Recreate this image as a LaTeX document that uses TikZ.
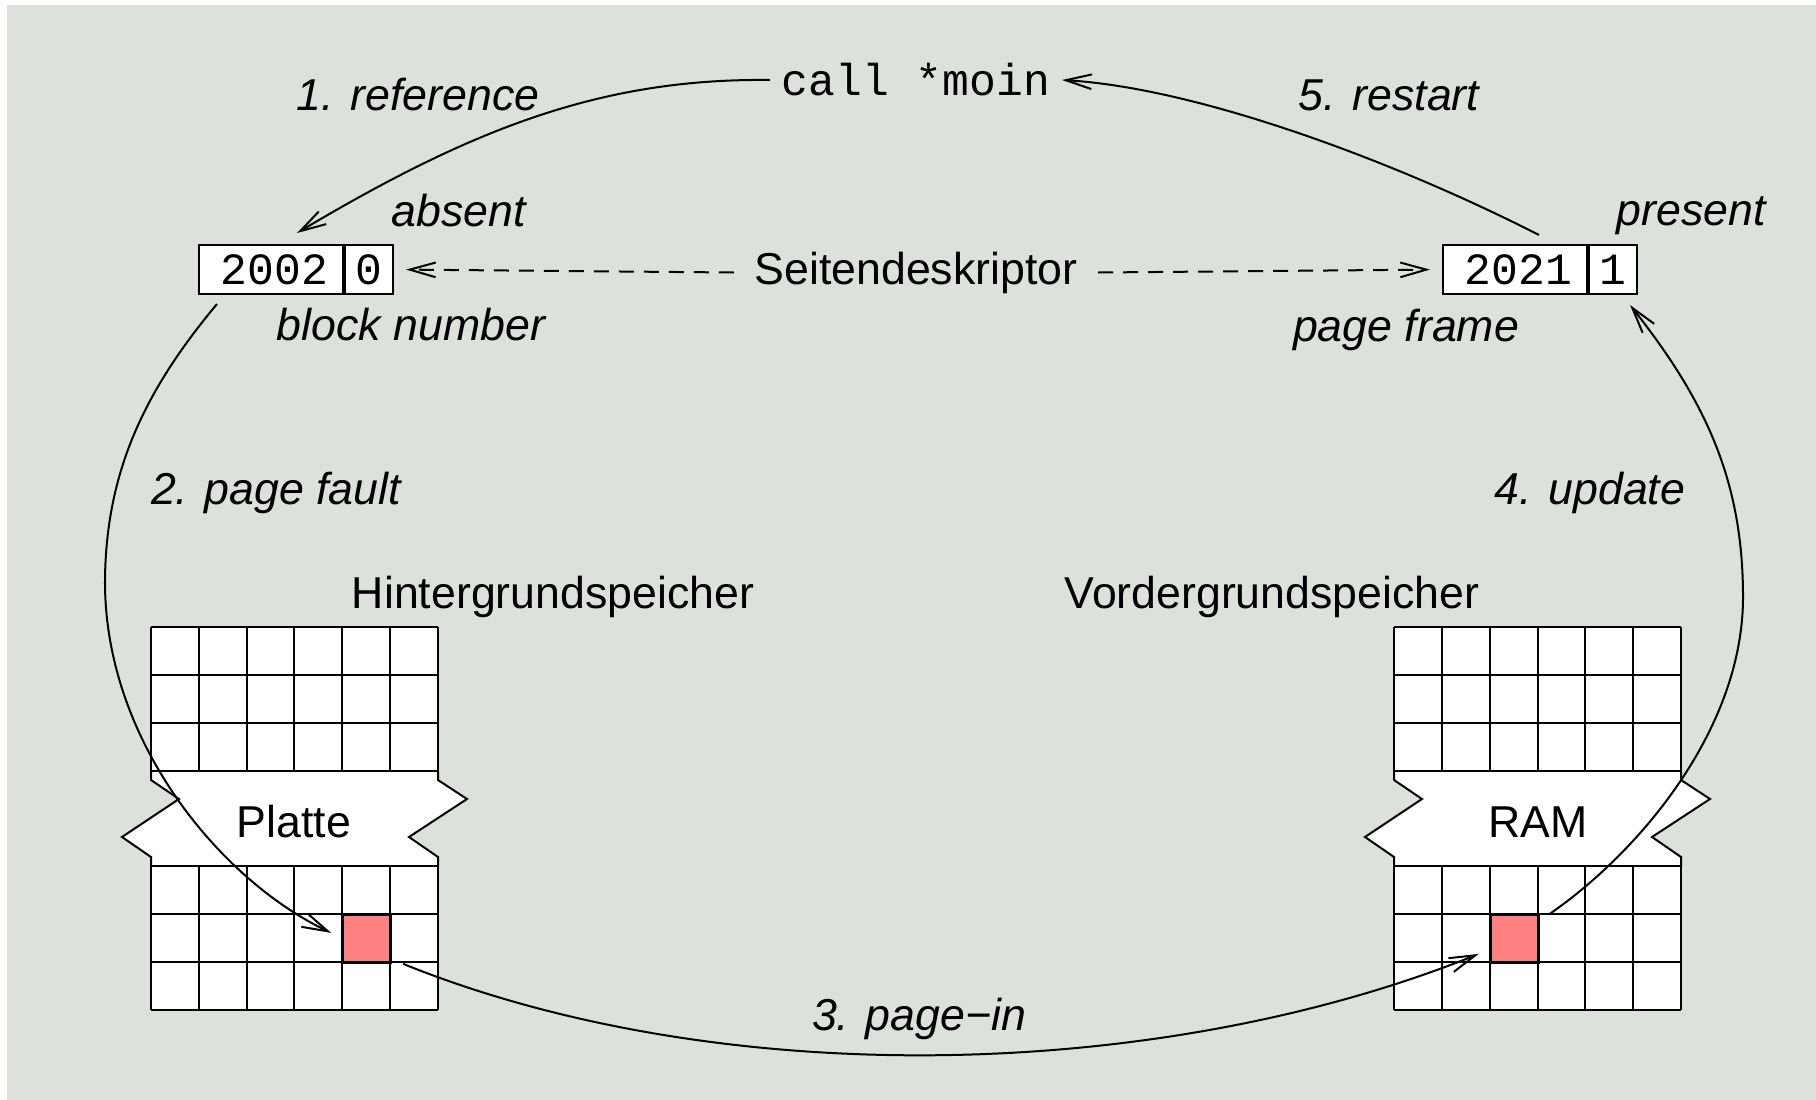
\documentclass[tikz,border=0pt]{standalone}
\usepackage{fontspec}
\setmainfont{Liberation Sans}
\setmonofont{Liberation Mono}
\usetikzlibrary{arrows.meta,calc}
\definecolor{bg}{RGB}{220,225,220}
\definecolor{redcell}{RGB}{255,128,128}
\tikzset{
  conn/.style={line width=0.6pt, -{Straight Barb[length=7.8pt,width=4.4pt]}},
  dconn/.style={conn, dash pattern=on 4.5pt off 3pt},
  lbl/.style={font=\fontsize{13.4}{16}\selectfont\itshape, inner sep=0pt},
  txt/.style={font=\fontsize{13.4}{16}\selectfont, inner sep=0pt},
  field/.style={draw, fill=white, line width=0.6pt, inner sep=0pt,
     minimum height=14.7pt, font=\fontsize{13.4}{16}\selectfont\ttfamily},
  cell/.style={draw, fill=redcell, line width=0.6pt, inner sep=0pt, minimum size=14.35pt},
  grd/.style={line width=0.6pt}
}
\newcommand\memblk[1]{%
  \begin{scope}[shift={(#1,0)}]
    \fill[white] (0,627) rectangle (287,771);
    \fill[white] (0,866) rectangle (287,1010);
    \fill[white] (0,771) -- (0,780) -- (28,799) -- (-29,837) -- (0,857) -- (0,866)
      -- (287,866) -- (287,857) -- (258,837) -- (316,799) -- (287,780) -- (287,771) -- cycle;
  \end{scope}}
\newcommand\memgrid[1]{%
  \begin{scope}[shift={(#1,0)}]
    \foreach \i in {0,...,6} {
      \draw[grd] (\i*47.83,627) -- (\i*47.83,771);
      \draw[grd] (\i*47.83,866) -- (\i*47.83,1010);
    }
    \foreach \yy in {627,675,723,771,866,914,962,1010}
      \draw[grd] (0,\yy) -- (287,\yy);
    \draw[grd, line join=miter] (0,771) -- (0,780) -- (28,799) -- (-29,837) -- (0,857) -- (0,866);
    \draw[grd, line join=miter] (287,771) -- (287,780) -- (316,799) -- (258,837) -- (287,857) -- (287,866);
  \end{scope}}
\begin{document}
\begin{tikzpicture}[x=0.3pt,y=-0.3pt]
\useasboundingbox (0,0) rectangle (1816,1100);
\fill[bg] (7,5) rectangle (1816,1100);

% memory blocks
\memblk{151}
\memblk{1394}
\node[cell, anchor=north west] (redL) at (342.3,914) {};
\node[cell, anchor=north west] (redR) at (1489.7,914) {};
\memgrid{151}
\memgrid{1394}

\node[txt] (platte) at (294,822) {Platte};
\node[txt] (ram) at (1538,822) {RAM};
\node[txt] (hint) at (553,597) {Hintergrundspeicher};
\node[txt] (vord) at (1272,597) {Vordergrundspeicher};

% descriptors
\node[field, minimum width=43.2pt, anchor=north west] (num0) at (198,244) {\hspace*{2pt}2002};
\node[field, minimum width=14.4pt, anchor=west] (bit0) at (num0.east) {0};
\node[field, minimum width=43.2pt, anchor=north west] (num1) at (1442,244) {\hspace*{2pt}2021};
\node[field, minimum width=14.4pt, anchor=west] (bit1) at (num1.east) {1};

\node[txt, inner xsep=6pt] (sd) at (916,272.5) {Seitendeskriptor};
\node[txt, inner xsep=3.4pt, font=\fontsize{13.4}{16}\selectfont\ttfamily] (call) at (916,80) {call *moin};

% labels
\node[lbl] (l1) at (418,95) {1. reference};
\node[lbl] (l5) at (1389,95) {5. restart};
\node[lbl] (abs) at (459,211) {absent};
\node[lbl] (pres) at (1691,216) {present};
\node[lbl] (bn) at (411,325) {block number};
\node[lbl] (pf) at (1406,330) {page frame};
\node[lbl] (l2) at (276,492.5) {2. page fault};
\node[lbl] (l4) at (1590,492.5) {4. update};
\node[lbl] (l3) at (919,1018.5) {3. page−in};

% dashed arrows
\draw[dconn, shorten >=3.6pt] (sd.west) -- (bit0.east);
\draw[dconn, shorten >=3.6pt] (sd.east) -- (num1.west);

% curves
\draw[conn] (call.west) .. controls (600,78) and (470,130) .. ($(num0.north)+(26,-11)$);
\draw[conn] ($(num1.north)+(24,-9)$) .. controls (1398,163) and (1200,88) .. (call.east);
\draw[conn] ($(num0.south west)+(19,9)$) .. controls (146,389) and (106,470) .. (105,580)
   .. controls (104,740) and (220,880) .. ($(redL.west)+(-11,-6)$);
\draw[conn] ($(redL.south east)+(11,0)$) .. controls (720,1092) and (1160,1082) .. ($(redR.west)+(-11,15)$);
\draw[conn] ($(redR.north east)+(10,0)$) .. controls (1638,853) and (1743,730) .. (1743,597)
   .. controls (1743,480) and (1705,400) .. ($(bit1.south east)+(-8,10)$);
\end{tikzpicture}
\end{document}
